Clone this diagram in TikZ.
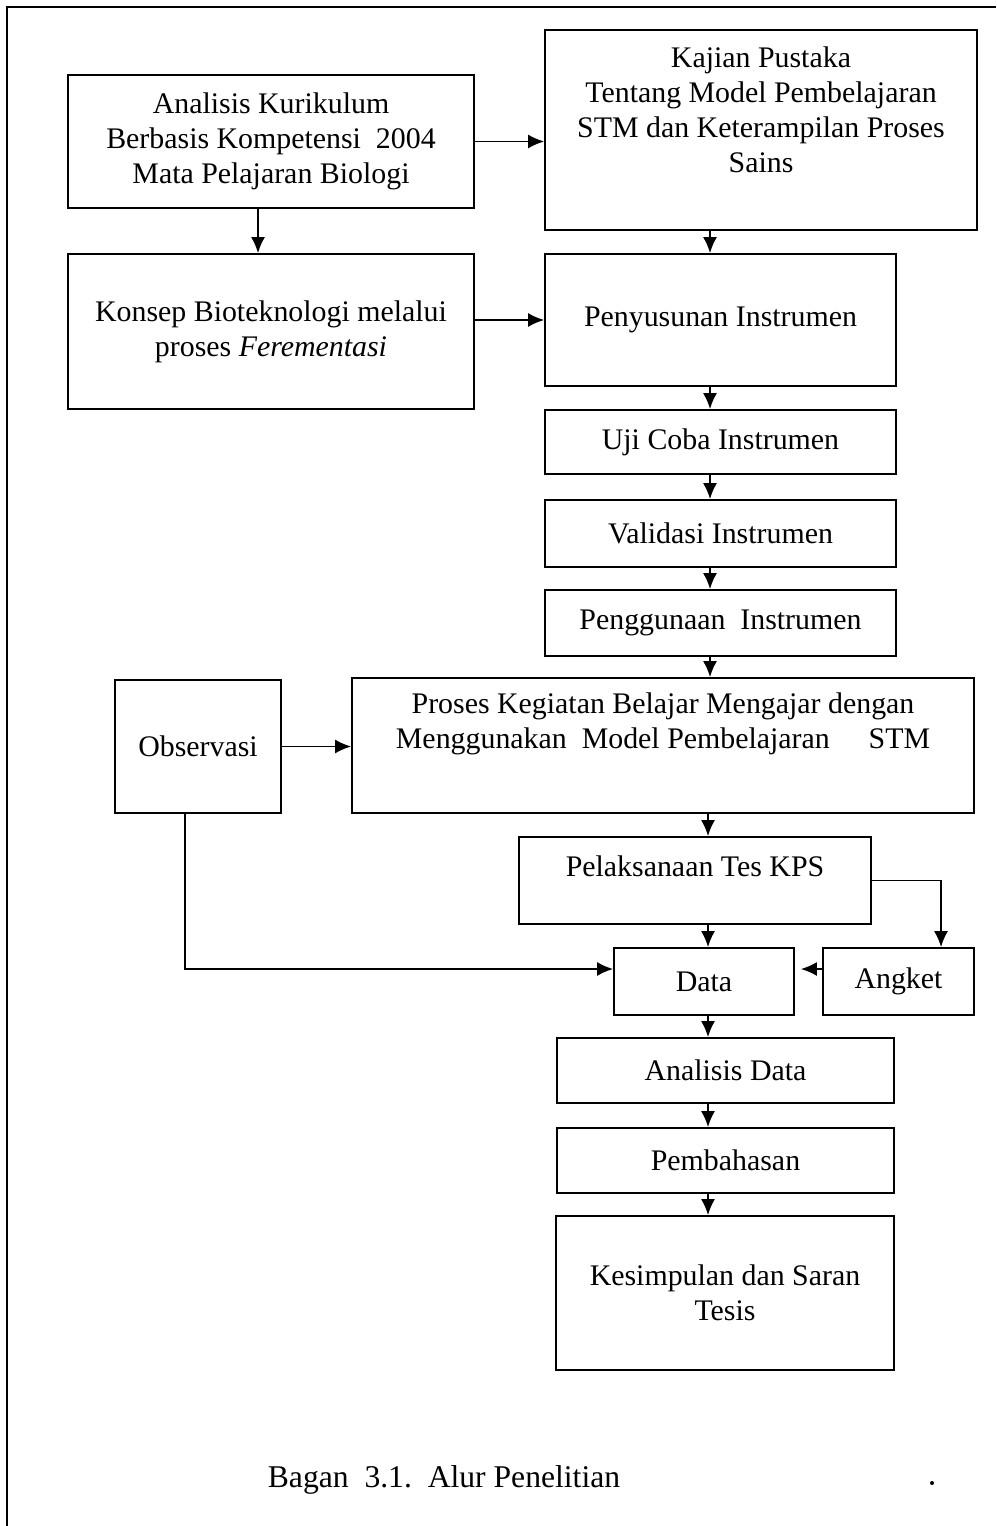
\documentclass[tikz,border=0pt]{standalone}
\usepackage{fontspec}
\setmainfont{Liberation Serif}
\usetikzlibrary{arrows.meta}
\begin{document}
\begin{tikzpicture}[
  box/.style={draw,line width=1pt,inner sep=2pt,align=center,font=\fontsize{17}{20}\selectfont},
  txt/.style={inner sep=0pt,align=center,font=\fontsize{17}{20}\selectfont},
  arr/.style={line width=1pt,-{Latex[length=0.32cm,width=0.28cm]}}]
  \useasboundingbox (0,0) rectangle (19.92,-30.52);
  \draw[line width=0.8pt] (0.14,-30.52) -- (0.14,-0.14) -- (19.92,-0.14);
  \coordinate (colA) at (14.20,0);
  \coordinate (colB) at (14.16,0);
  \node[box,minimum width=8.12cm,minimum height=2.66cm] (kur) at (5.42,-2.83)
    {Analisis Kurikulum\\Berbasis Kompetensi\ \ 2004\\Mata Pelajaran Biologi};
  \node[box,minimum width=8.64cm,minimum height=4.00cm] (kaj) at (15.22,-2.60) {};
  \node[txt] (kajtxt) at (15.22,-2.20)
    {Kajian Pustaka\\Tentang Model Pembelajaran\\STM dan Keterampilan Proses\\Sains};
  \node[box,minimum width=8.12cm,minimum height=3.10cm] (kon) at (5.42,-6.63)
    {Konsep Bioteknologi melalui\\proses \textit{Ferementasi}};
  \node[box,minimum width=7.02cm,minimum height=2.64cm] (pen) at (14.41,-6.40) {Penyusunan Instrumen};
  \node[box,minimum width=7.02cm,minimum height=1.28cm] (uji) at (14.41,-8.84) {Uji Coba Instrumen};
  \node[box,minimum width=7.02cm,minimum height=1.34cm] (val) at (14.41,-10.67) {Validasi Instrumen};
  \node[box,minimum width=7.02cm,minimum height=1.32cm] (pgu) at (14.41,-12.46) {Penggunaan\ \ Instrumen};
  \node[box,minimum width=3.32cm,minimum height=2.66cm] (obs) at (3.96,-14.93) {Observasi};
  \node[box,minimum width=12.44cm,minimum height=2.70cm] (pro) at (13.26,-14.91) {};
  \node[txt] (protxt) at (13.26,-14.47)
    {Proses Kegiatan Belajar Mengajar dengan\\Menggunakan\ \ Model Pembelajaran\hspace{1.3em}STM};
  \node[box,minimum width=7.04cm,minimum height=1.74cm] (pel) at (13.90,-17.61) {};
  \node[txt] (peltxt) at (13.90,-17.32) {Pelaksanaan Tes KPS};
  \node[box,minimum width=3.60cm,minimum height=1.34cm] (data) at (14.08,-19.63) {Data};
  \node[box,minimum width=3.02cm,minimum height=1.34cm] (ang) at (17.97,-19.63) {Angket};
  \node[box,minimum width=6.74cm,minimum height=1.30cm] (ana) at (14.51,-21.41) {Analisis Data};
  \node[box,minimum width=6.74cm,minimum height=1.30cm] (pem) at (14.51,-23.21) {Pembahasan};
  \node[box,minimum width=6.76cm,minimum height=3.08cm] (kes) at (14.50,-25.86)
    {Kesimpulan dan Saran\\Tesis};
  \node[txt,font=\fontsize{18}{21}\selectfont] (cap) at (8.88,-29.60) {Bagan\ \ 3.1.\ \ Alur Penelitian};
  \fill (18.64,-29.66) circle (0.04);

  \draw[arr] (kur.east) -- (kaj.west |- kur.east);
  \draw[arr] ([xshift=-0.26cm]kur.south) -- ([xshift=-0.26cm]kon.north);
  \draw[arr] (kon.east |- pen.west) -- (pen.west);
  \draw[arr] (kaj.south -| colA) -- (pen.north -| colA);
  \draw[arr] (pen.south -| colA) -- (uji.north -| colA);
  \draw[arr] (uji.south -| colA) -- (val.north -| colA);
  \draw[arr] (val.south -| colA) -- (pgu.north -| colA);
  \draw[arr] (pgu.south -| colA) -- (pro.north -| colA);
  \draw[arr] (obs.east) -- (pro.west |- obs.east);
  \draw[arr] (pro.south -| colB) -- (pel.north -| colB);
  \draw[arr] (pel.south -| colB) -- (data.north -| colB);
  \draw[arr] (data.south -| colB) -- (ana.north -| colB);
  \draw[arr] (ana.south -| colB) -- (pem.north -| colB);
  \draw[arr] (pem.south -| colB) -- (kes.north -| colB);
  \draw[arr] ([xshift=-0.26cm]obs.south) |- ([yshift=0.25cm]data.west);
  \draw[arr] (pel.east) -| ([xshift=0.85cm]ang.north);
  \draw[arr,shorten >=0.12cm] ([yshift=0.25cm]ang.west) -- ([yshift=0.25cm]data.east);
\end{tikzpicture}
\end{document}
